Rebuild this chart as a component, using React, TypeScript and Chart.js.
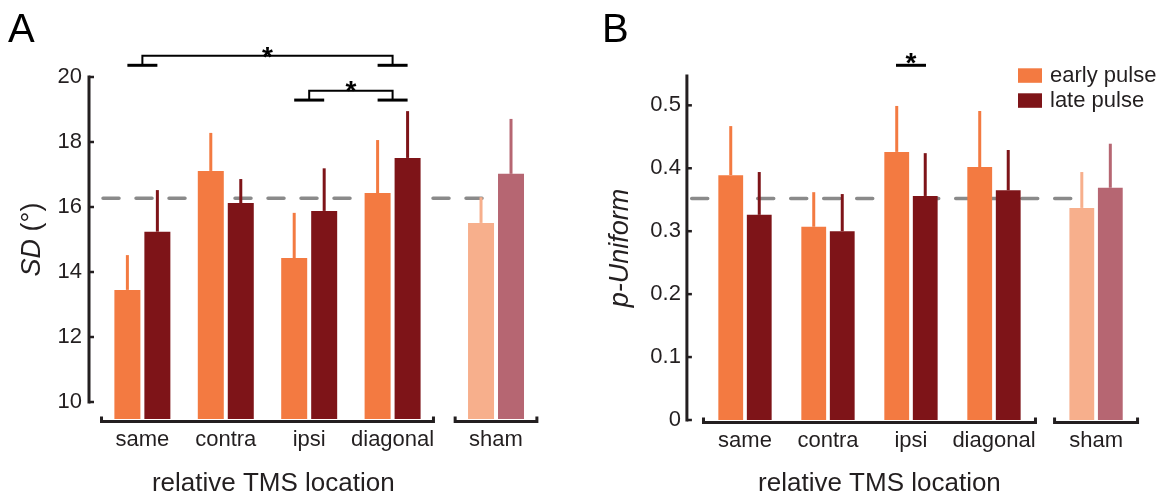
import React, { useEffect, useRef } from 'react';
import { Chart, registerables } from 'chart.js';

Chart.register(...registerables);

// ---------------- data ----------------
const categories = ['same', 'contra', 'ipsi', 'diagonal', 'sham'];
const seriesNames = ['early pulse', 'late pulse'];

// Panel A: SD (deg)
const sdEarly = [13.45, 17.11, 14.43, 16.43, 15.51];
const sdEarlyErr = [1.07, 1.17, 1.39, 1.63, 0.79];
const sdLate = [15.24, 16.12, 15.88, 17.51, 17.02];
const sdLateErr = [1.28, 0.74, 1.31, 1.44, 1.69];
const sdReference = 16.27;
const sdTicks = [10, 12, 14, 16, 18, 20];

// Panel B: p-Uniform
const pUniEarly = [0.389, 0.307, 0.426, 0.402, 0.337];
const pUniEarlyErr = [0.078, 0.055, 0.073, 0.089, 0.057];
const pUniLate = [0.326, 0.3, 0.356, 0.365, 0.369];
const pUniLateErr = [0.068, 0.059, 0.068, 0.064, 0.07];
const pUniReference = 0.352;
const pUniTicks = [0, 0.1, 0.2, 0.3, 0.4, 0.5];

// ---------------- style ----------------
const W = 582;
const H = 496;
const INK = '#231f20';
const FONT = '"Liberation Sans", Arial, Helvetica, sans-serif';
const EARLY = '#f37a41';
const LATE = '#7e1418';
const SHAM_EARLY = '#f7af8c';
const SHAM_LATE = '#b66672';
const earlyColors = categories.map((c) => (c === 'sham' ? SHAM_EARLY : EARLY));
const lateColors = categories.map((c) => (c === 'sham' ? SHAM_LATE : LATE));

type Part = { text: string; italic: boolean };

function drawRotatedTitle(ctx: any, parts: Part[], cx: number, cy: number, size: number) {
  ctx.save();
  ctx.translate(cx, cy);
  ctx.rotate(-Math.PI / 2);
  const fonts = parts.map((p) => `${p.italic ? 'italic ' : ''}${size}px ${FONT}`);
  const widths = parts.map((p, i) => {
    ctx.font = fonts[i];
    return ctx.measureText(p.text).width;
  });
  const total = widths.reduce((a, b) => a + b, 0);
  let x = -total / 2;
  ctx.textAlign = 'left';
  ctx.textBaseline = 'middle';
  ctx.fillStyle = INK;
  parts.forEach((p, i) => {
    ctx.font = fonts[i];
    ctx.fillText(p.text, x, 0);
    x += widths[i];
  });
  ctx.restore();
}

function drawStar(ctx: any, x: number, yCenter: number) {
  ctx.save();
  ctx.font = `bold 28px ${FONT}`;
  ctx.fillStyle = '#000';
  ctx.textAlign = 'center';
  ctx.textBaseline = 'alphabetic';
  ctx.fillText('*', x, yCenter + 0.57 * 28);
  ctx.restore();
}

function makeChart(canvas: HTMLCanvasElement, spec: any) {
  const values = [spec.early, spec.late];
  const errs = [spec.earlyErr, spec.lateErr];
  const colors = [earlyColors, lateColors];

  const decor = {
    id: 'decor',
    beforeDatasetsDraw(chart: any) {
      const { ctx } = chart;
      const xs = chart.scales.x;
      const ys = chart.scales.y;
      const y = ys.getPixelForValue(spec.ref);
      ctx.save();
      ctx.strokeStyle = '#8a8a8a';
      ctx.lineWidth = 3.5;
      ctx.lineCap = 'round';
      ctx.setLineDash([16, 17]);
      ctx.beginPath();
      ctx.moveTo(xs.getPixelForValue(spec.dashFrom), y);
      ctx.lineTo(xs.getPixelForValue(spec.dashTo), y);
      ctx.stroke();
      ctx.restore();
    },
    afterDatasetsDraw(chart: any) {
      const { ctx, chartArea } = chart;
      const xs = chart.scales.x;
      const ys = chart.scales.y;
      ctx.save();

      // error bars (upper only)
      for (let d = 0; d < 2; d++) {
        const meta = chart.getDatasetMeta(d);
        meta.data.forEach((el: any, i: number) => {
          const top = ys.getPixelForValue(values[d][i] + errs[d][i]);
          ctx.strokeStyle = colors[d][i];
          ctx.lineWidth = 3;
          ctx.lineCap = 'butt';
          ctx.beginPath();
          ctx.moveTo(el.x, el.y);
          ctx.lineTo(el.x, top);
          ctx.stroke();
        });
      }

      // y axis (offset, MATLAB-like)
      ctx.strokeStyle = INK;
      ctx.lineWidth = 3;
      ctx.lineCap = 'butt';
      const ax = chartArea.left;
      ctx.beginPath();
      ctx.moveTo(ax, ys.getPixelForValue(spec.axisFrom) + 1.5);
      ctx.lineTo(ax, ys.getPixelForValue(spec.axisTo) - 1.5);
      ctx.stroke();
      ctx.lineWidth = 2.5;
      spec.yTicks.forEach((t: number) => {
        const y = ys.getPixelForValue(t);
        ctx.beginPath();
        ctx.moveTo(ax, y);
        ctx.lineTo(ax + 5, y);
        ctx.stroke();
      });

      // x axis brackets
      ctx.lineWidth = 3;
      ctx.lineJoin = 'miter';
      const by = chartArea.bottom + 2.5;
      spec.axisGroups.forEach((g: number[]) => {
        const x1 = xs.getPixelForValue(spec.slots[g[0]] - spec.axisHalf);
        const x2 = xs.getPixelForValue(spec.slots[g[1]] + spec.axisHalf);
        ctx.beginPath();
        ctx.moveTo(x1, by - 5);
        ctx.lineTo(x1, by);
        ctx.lineTo(x2, by);
        ctx.lineTo(x2, by - 5);
        ctx.stroke();
      });

      // significance brackets
      ctx.strokeStyle = '#000';
      spec.sig.forEach((s: any) => {
        const x1 = xs.getPixelForValue(spec.slots[s.from]);
        const x2 = xs.getPixelForValue(spec.slots[s.to]);
        const yt = ys.getPixelForValue(s.top);
        const yf = ys.getPixelForValue(s.foot);
        ctx.lineWidth = 2;
        ctx.beginPath();
        ctx.moveTo(x1, yf);
        ctx.lineTo(x1, yt);
        ctx.lineTo(x2, yt);
        ctx.lineTo(x2, yf);
        ctx.stroke();
        ctx.lineWidth = 3;
        [x1, x2].forEach((x) => {
          ctx.beginPath();
          ctx.moveTo(x - 15, yf);
          ctx.lineTo(x + 15, yf);
          ctx.stroke();
        });
        drawStar(ctx, (x1 + x2) / 2, ys.getPixelForValue(s.star));
      });
      spec.sigBars.forEach((s: any) => {
        const x = xs.getPixelForValue(spec.slots[s.at]);
        const y = ys.getPixelForValue(s.y);
        ctx.lineWidth = 3;
        ctx.beginPath();
        ctx.moveTo(x - 15, y);
        ctx.lineTo(x + 15, y);
        ctx.stroke();
        drawStar(ctx, x, ys.getPixelForValue(s.star));
      });

      // x title
      ctx.fillStyle = INK;
      ctx.font = `26px ${FONT}`;
      ctx.textAlign = 'center';
      ctx.textBaseline = 'alphabetic';
      ctx.fillText('relative TMS location', xs.getPixelForValue(spec.xTitleAt), 490.5);

      // y title
      drawRotatedTitle(ctx, spec.yTitle, spec.yTitleX, (chartArea.top + ys.getPixelForValue(spec.axisFrom)) / 2, 27);

      // panel letter
      ctx.fillStyle = '#000';
      ctx.font = `40px ${FONT}`;
      ctx.textAlign = 'left';
      ctx.textBaseline = 'alphabetic';
      ctx.fillText(spec.letter, spec.letterX, 42);

      // legend
      if (spec.legend) {
        chart.data.datasets.forEach((ds: any, i: number) => {
          const top = 68.3 + i * 25;
          ctx.fillStyle = i === 0 ? EARLY : LATE;
          ctx.fillRect(436, top, 24, 14.5);
          ctx.fillStyle = INK;
          ctx.font = `22px ${FONT}`;
          ctx.textBaseline = 'middle';
          ctx.textAlign = 'left';
          ctx.fillText(ds.label, 468, top + 7.5);
        });
      }
      ctx.restore();
    },
  };

  const area = spec.area;
  return new Chart(canvas, {
    type: 'bar',
    data: {
      datasets: [
        {
          label: seriesNames[0],
          data: spec.slots.map((x: number, i: number) => ({ x, y: spec.early[i] })),
          backgroundColor: earlyColors,
          borderWidth: 0,
        },
        {
          label: seriesNames[1],
          data: spec.slots.map((x: number, i: number) => ({ x, y: spec.late[i] })),
          backgroundColor: lateColors,
          borderWidth: 0,
        },
      ],
    },
    options: {
      responsive: false,
      animation: false,
      events: [],
      layout: { padding: { left: 0, right: W - area.right, top: area.top, bottom: 0 } },
      plugins: { legend: { display: false }, tooltip: { enabled: false } },
      datasets: { bar: { categoryPercentage: spec.catPct, barPercentage: spec.barPct } },
      scales: {
        x: {
          type: 'linear',
          min: spec.xMin,
          max: spec.xMax,
          offset: false,
          grid: { display: false, drawTicks: false },
          border: { display: false },
          afterBuildTicks: (s: any) => {
            s.ticks = spec.slots.map((v: number) => ({ value: v }));
          },
          afterFit: (s: any) => {
            s.height = H - area.bottom;
          },
          ticks: {
            autoSkip: false,
            maxRotation: 0,
            padding: 8,
            color: INK,
            font: { family: FONT, size: 22 },
            callback: (_v: any, i: number) => categories[i],
          },
        },
        y: {
          type: 'linear',
          min: spec.yMin,
          max: spec.yMax,
          beginAtZero: false,
          grid: { display: false, drawTicks: false },
          border: { display: false },
          afterBuildTicks: (s: any) => {
            s.ticks = spec.yTicks.map((v: number) => ({ value: v }));
          },
          afterFit: (s: any) => {
            s.width = area.left;
          },
          ticks: {
            padding: spec.tickPad,
            color: INK,
            font: { family: FONT, size: 22 },
            callback: spec.tickFormat,
          },
        },
      },
    },
    plugins: [decor],
  } as any);
}

const panelA = {
  letter: 'A',
  letterX: 8,
  area: { left: 89, right: 570, top: 77, bottom: 419 },
  slots: [1, 2, 3, 4, 5.24],
  xMin: 0.36,
  xMax: 6.127,
  yMin: 9.477,
  yMax: 20,
  yTicks: sdTicks,
  axisFrom: 10,
  axisTo: 20,
  tickPad: 7,
  tickFormat: (v: number) => String(v),
  catPct: 0.719,
  barPct: 0.867,
  early: sdEarly,
  earlyErr: sdEarlyErr,
  late: sdLate,
  lateErr: sdLateErr,
  ref: sdReference,
  dashFrom: 0.528,
  dashTo: 5.19,
  axisGroups: [
    [0, 3],
    [4, 4],
  ],
  axisHalf: 0.49,
  sig: [
    { from: 0, to: 3, top: 20.655, foot: 20.36, star: 20.83 },
    { from: 2, to: 3, top: 19.58, foot: 19.29, star: 19.77 },
  ],
  sigBars: [],
  xTitleAt: 2.57,
  yTitle: [
    { text: 'SD', italic: true },
    { text: ' (°)', italic: false },
  ],
  yTitleX: 32.5,
  legend: false,
};

const panelB = {
  letter: 'B',
  letterX: 20,
  area: { left: 104.9, right: 570, top: 76, bottom: 420 },
  slots: [1, 2, 3, 4, 5.23],
  xMin: 0.3,
  xMax: 5.904,
  yMin: 0,
  yMax: 0.5466,
  yTicks: pUniTicks,
  axisFrom: 0,
  axisTo: 0.5466,
  tickPad: 6,
  tickFormat: (v: number) => (v === 0 ? '0' : v.toFixed(1)),
  catPct: 0.687,
  barPct: 0.87,
  early: pUniEarly,
  earlyErr: pUniEarlyErr,
  late: pUniLate,
  lateErr: pUniLateErr,
  ref: pUniReference,
  dashFrom: 0.358,
  dashTo: 5.05,
  axisGroups: [
    [0, 3],
    [4, 4],
  ],
  axisHalf: 0.5,
  sig: [],
  sigBars: [{ at: 2, y: 0.5636, star: 0.578 }],
  xTitleAt: 2.62,
  yTitle: [{ text: 'p-Uniform', italic: true }],
  yTitleX: 38,
  legend: true,
};

export default function App() {
  const refA = useRef<HTMLCanvasElement | null>(null);
  const refB = useRef<HTMLCanvasElement | null>(null);
  useEffect(() => {
    const a = makeChart(refA.current as HTMLCanvasElement, panelA);
    const b = makeChart(refB.current as HTMLCanvasElement, panelB);
    return () => {
      a.destroy();
      b.destroy();
    };
  }, []);
  return (
    <div style={{ position: 'fixed', left: 0, top: 0, width: 1164, height: 496, background: '#fff' }}>
      <canvas ref={refA} width={W} height={H} style={{ position: 'absolute', left: 0, top: 0, width: W, height: H }} />
      <canvas ref={refB} width={W} height={H} style={{ position: 'absolute', left: 582, top: 0, width: W, height: H }} />
    </div>
  );
}
